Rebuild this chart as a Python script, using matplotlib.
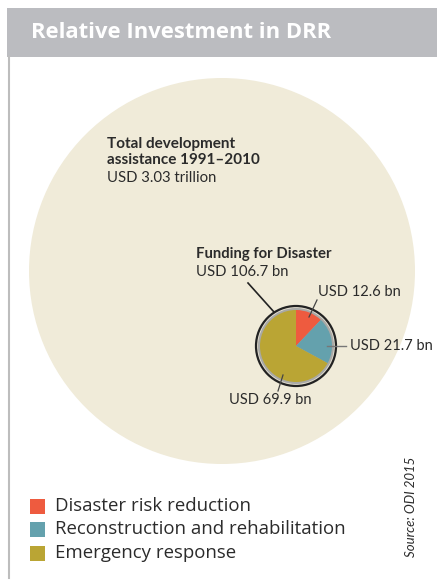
import numpy as np
import matplotlib
matplotlib.use('Agg')
import matplotlib.pyplot as plt
from matplotlib.patches import Rectangle, Circle

plt.rcParams['font.family'] = ['Lato', 'DejaVu Sans']

# --- dados ---
categorias = ['Disaster risk reduction', 'Reconstruction and rehabilitation', 'Emergency response']
valores_bn = [12.6, 21.7, 69.9]
rotulos_fatias = ['USD 12.6 bn', 'USD 21.7 bn', 'USD 69.9 bn']
cores = ['#EE5B3F', '#64A1AD', '#BAA534']
titulo = 'Relative Investment in DRR'
total_titulo = 'Total development\nassistance 1991\u20132010'
total_valor = 'USD 3.03 trillion'
funding_titulo = 'Funding for Disaster'
funding_valor = 'USD 106.7 bn'
fonte = 'Source: ODI 2015'

TXT = '#2B2B2B'
OPEN = ['Open Sans', 'DejaVu Sans']

fig = plt.figure(figsize=(4.37, 5.81), dpi=100)
ax = fig.add_axes([0, 0, 1, 1])

# pie pequeno (coordenadas em pixels, eixo y invertido)
cx, cy, r = 296, 346, 36
ax.add_patch(Circle((cx, cy), r + 4, facecolor='#E3DED0', edgecolor='#222222', lw=1.6, zorder=3))
ax.add_patch(Circle((cx, cy), r + 2, facecolor='#A9A9A6', edgecolor='none', zorder=3))
wedges, _ = ax.pie(valores_bn, colors=cores, startangle=-90, counterclock=True,
                   center=(cx, cy), radius=r, wedgeprops=dict(linewidth=0))
for w in wedges:
    w.set_zorder(4)

ax.set_xlim(0, 437)
ax.set_ylim(581, 0)
ax.set_aspect('auto')
ax.axis('off')

# cabeçalho
ax.add_patch(Rectangle((7, 8), 430, 49, facecolor='#BBBCC0', edgecolor='none', zorder=1))
ax.text(31, 33, titulo, color='white', fontsize=15.8, fontweight='bold', va='center', ha='left',
        family=OPEN, zorder=2)
ax.plot([9, 9], [57, 578], color='#BDBDBD', lw=1.5, zorder=1)

# círculo grande
ax.add_patch(Circle((222, 271), 193, facecolor='#F0EBD9', edgecolor='none', zorder=1))

ax.text(107, 152, total_titulo, fontsize=11, fontweight='bold', color=TXT, va='center', ha='left',
        linespacing=1.15, zorder=5)
ax.text(107, 178, total_valor, fontsize=10.7, color=TXT, va='center', ha='left', zorder=5)

ax.text(196, 254, funding_titulo, fontsize=10.7, fontweight='bold', color=TXT, va='center', ha='left', zorder=5)
ax.text(196, 272, funding_valor, fontsize=10.7, color=TXT, va='center', ha='left', zorder=5)
ax.plot([248, 274], [283, 312], color='#222222', lw=1.2, zorder=5)

# rótulos das fatias
ax.text(318, 292, rotulos_fatias[0], fontsize=10.5, color=TXT, va='center', ha='left', zorder=5)
ax.plot([317, 309], [300, 317], color='#444444', lw=0.9, zorder=5)
ax.text(350, 346, rotulos_fatias[1], fontsize=10.5, color=TXT, va='center', ha='left', zorder=5)
ax.plot([327, 346], [346, 346], color='#777777', lw=1.0, zorder=5)
ax.text(229, 400, rotulos_fatias[2], fontsize=10.5, color=TXT, va='center', ha='left', zorder=5)
ax.plot([283, 278], [375, 391], color='#444444', lw=0.9, zorder=5)

# legenda
for i, (cat, cor) in enumerate(zip(categorias, cores)):
    yc = 506 + i * 23.5
    ax.add_patch(Rectangle((30, yc - 7.5), 15, 15, facecolor=cor, edgecolor='none', zorder=2))
    ax.text(55, yc, cat, fontsize=13.4, color=TXT, va='center', ha='left', family=OPEN, zorder=2)

ax.text(411, 507, fonte, fontsize=9.5, style='italic', color=TXT, rotation=90,
        va='center', ha='center', zorder=2)

fig.savefig('out.png', dpi=100, facecolor='white')
